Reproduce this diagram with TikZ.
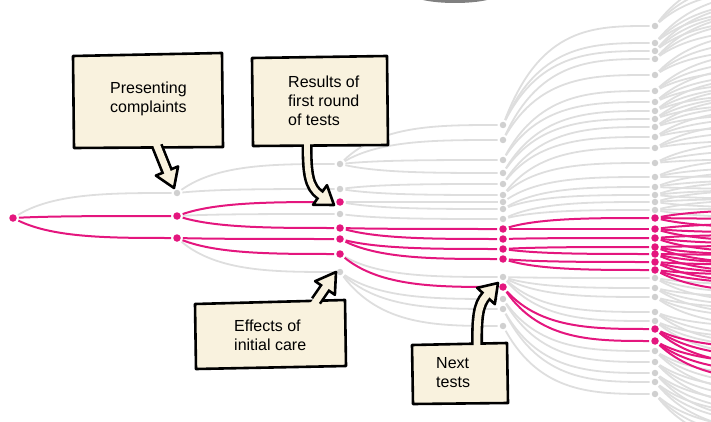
\documentclass[tikz,border=0pt]{standalone}
\usepackage{fontspec}
\newfontfamily\notefont{Liberation Sans}
\usetikzlibrary{calc}
\definecolor{mag}{RGB}{228,22,126}
\definecolor{linegray}{RGB}{222,222,222}
\definecolor{dotgray}{RGB}{208,208,208}
\definecolor{paper}{RGB}{249,242,222}

\begin{document}
\begin{tikzpicture}[
    x=1pt, y=-1pt,
    gdot/.style={circle, inner sep=0pt, minimum size=6.5pt, fill=dotgray},
    pdot/.style={circle, inner sep=0pt, minimum size=7.5pt, fill=mag},
    branch/.style={to path={.. controls ($(\tikztostart |- \tikztotarget)!.25!(\tikztotarget)$)
        and ($(\tikztostart |- \tikztotarget)!.6!(\tikztotarget)$) .. (\tikztotarget)}},
    glink/.style={branch, draw=linegray, line width=1.8pt, shorten <=2pt, shorten >=2pt},
    plink/.style={branch, draw=mag, line width=2pt, shorten <=2pt, shorten >=2pt},
    callout/.style={fill=paper, draw=black, line width=2.6pt, line join=round},
    tailout/.style={draw=black, line width=12pt},
    tailin/.style={draw=paper, line width=6.8pt},
    note/.style={font=\notefont\fontsize{16}{19}\selectfont, align=left,
                 inner sep=0pt, anchor=north west}
  ]
  \useasboundingbox (0,0) rectangle (711,422);
  \clip (0,0) rectangle (711,422);

  % edge of the panel above
  \fill[black!50] (455,-7) ellipse [x radius=45pt, y radius=10pt];

  % dots, column by column
  \node[pdot] (a) at (13,218) {};
  \node[gdot] (b1) at (177,193) {};
  \node[pdot] (b2) at (177,216) {};
  \node[pdot] (b3) at (177,238) {};
  \foreach \i/\y in {1/164, 2/189, 4/214, 8/272}
    \node[gdot] (c\i) at (340,\y) {};
  \foreach \i/\y in {3/202, 5/228, 6/239, 7/254}
    \node[pdot] (c\i) at (340,\y) {};
  \foreach \i/\y in {1/125, 2/140, 3/160, 4/173, 5/184, 6/195, 7/202, 8/209, 9/219,
                     14/277, 16/299, 17/309, 18/326}
    \node[gdot] (d\i) at (503,\y) {};
  \foreach \i/\y in {10/229, 11/239, 12/249, 13/259, 15/287}
    \node[pdot] (d\i) at (503,\y) {};

  % last column and its fans off the edge
  \foreach \i/\y in {1/26, 2/43, 3/51, 4/59, 5/75, 6/91, 7/102, 8/111, 9/119, 10/127,
                     11/137, 12/148, 13/163, 14/177, 15/187, 16/195, 17/202, 18/210,
                     26/278, 27/288, 28/297, 29/312, 30/321,
                     33/351, 34/362, 35/373, 36/382, 37/394} {
    \node[gdot] (e\i) at (655,\y) {};
    \pgfmathsetmacro\ty{215+1.25*(\y-215)}
    \foreach \k/\o in {1/-9, 2/0, 3/9} {
      \coordinate (f\i-\k) at (830,{\ty+\o});
      \draw[glink] (e\i) to (f\i-\k);
    }
  }
  \foreach \i/\y in {19/218, 20/229, 21/238, 22/247, 23/254, 24/262, 25/270,
                     31/329, 32/341}
    \node[pdot] (e\i) at (655,\y) {};

  % grey branches
  \foreach \p/\c in {a/b1, b1/c1, b1/c2, b2/c4, b3/c8,
      c1/d1, c1/d2, c1/d3, c1/d4, c2/d5, c2/d6, c3/d7, c3/d8, c4/d9, c7/d14,
      c8/d16, c8/d17, c8/d18,
      d1/e1, d1/e2, d1/e3, d2/e4, d2/e5, d3/e6, d3/e7, d4/e8, d4/e9, d5/e10,
      d5/e11, d6/e12, d6/e13, d7/e14, d8/e15, d8/e16, d9/e17, d9/e18,
      d14/e26, d14/e27, d14/e28, d14/e29, d14/e30, d16/e33, d16/e34,
      d17/e35, d17/e36, d18/e37}
    \draw[glink] (\p) to (\c);

  % the path taken
  \foreach \p/\c in {a/b2, a/b3, b2/c3, b2/c5, b3/c6, b3/c7,
      c5/d10, c5/d11, c6/d12, c6/d13, c7/d15,
      d10/e19, d10/e20, d11/e21, d12/e22, d12/e23, d13/e24, d13/e25,
      d15/e31, d15/e32}
    \draw[plink] (\p) to (\c);
  \foreach \i/\y in {19/218, 20/229, 21/238, 22/247, 23/254, 24/262, 25/270,
                     31/329, 32/341} {
    \pgfmathsetmacro\ty{215+1.25*(\y-215)}
    \foreach \k/\o in {1/-9, 2/0, 3/9} {
      \coordinate (f\i-\k) at (830,{\ty+\o});
      \draw[plink] (e\i) to (f\i-\k);
    }
  }

  % Presenting complaints
  \coordinate (t1e) at (167,171);
  \coordinate (t1t) at (174,188);
  \draw[callout] (73,56) -- (222,53) -- (223,147) -- (74,148) -- cycle;
  \draw[tailout] (157,146) -- (t1e);
  \draw[callout] ($(t1e)!12pt!90:(t1t)$) -- (t1t) -- ($(t1e)!12pt!-90:(t1t)$) -- cycle;
  \draw[tailin] (154.6,140) -- ($(t1e)!3pt!(t1t)$);
  \node[note] (n1) at (110,82) {Presenting\\complaints};

  % Results of first round
  \coordinate (t2e) at (320,195);
  \coordinate (t2t) at (334,205);
  \draw[callout] (252,58) -- (387,56) -- (388,145) -- (253,146) -- cycle;
  \draw[tailout, line width=11pt] (307,145) .. controls (307,174) and (309,187) .. (t2e);
  \draw[callout] ($(t2e)!12pt!90:(t2t)$) -- (t2t) -- ($(t2e)!12pt!-90:(t2t)$) -- cycle;
  \draw[tailin, line width=5.8pt] (307,139) -- (307,145) .. controls (307,174) and (309,187)
    .. (t2e) -- ($(t2e)!3pt!(t2t)$);
  \node[note] (n2) at (288,76) {Results of\\first round\\of tests};

  % Effects of initial care
  \coordinate (t3e) at (325,288);
  \coordinate (t3t) at (336,272);
  \draw[callout] (195,304) -- (345,300) -- (346,366) -- (196,369) -- cycle;
  \draw[tailout] (316,301) -- (t3e);
  \draw[callout] ($(t3e)!12pt!90:(t3t)$) -- (t3t) -- ($(t3e)!12pt!-90:(t3t)$) -- cycle;
  \draw[tailin] (311.9,307) -- ($(t3e)!3pt!(t3t)$);
  \node[note] (n3) at (234,320) {Effects of\\initial care};

  % Next tests
  \coordinate (t4e) at (486,296);
  \coordinate (t4t) at (498,283);
  \draw[callout] (412,345) -- (507,343) -- (508,403) -- (413,404) -- cycle;
  \draw[tailout] (477,344) .. controls (477,318) and (478,305) .. (t4e);
  \draw[callout] ($(t4e)!12pt!90:(t4t)$) -- (t4t) -- ($(t4e)!12pt!-90:(t4t)$) -- cycle;
  \draw[tailin] (477,350) -- (477,344) .. controls (477,318) and (478,305) .. (t4e)
    -- ($(t4e)!3pt!(t4t)$);
  \node[note] (n4) at (436,357.5) {Next\\tests};
\end{tikzpicture}
\end{document}
